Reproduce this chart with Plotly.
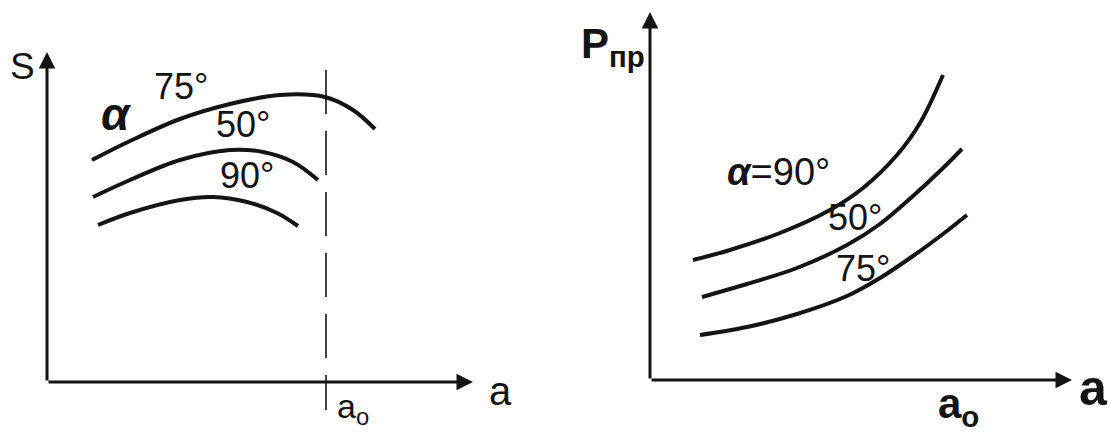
import plotly.graph_objects as go

# ---- Left panel: S as a function of a for three angles ----
a_75 = [4.5, 8.3, 13.3, 18.3, 23.3, 27.8, 30.6, 32.8]
s_75 = [22.2, 24.1, 26.3, 27.8, 28.7, 28.5, 27.2, 25.3]

a_50 = [4.6, 8.3, 13.3, 18.3, 21.6, 24.6, 27.1]
s_50 = [18.5, 20.2, 22.2, 23.2, 23.0, 22.0, 20.2]

a_90 = [5.1, 8.3, 13.3, 16.6, 20.0, 23.0, 25.1]
s_90 = [15.7, 16.9, 18.2, 18.5, 18.0, 16.9, 15.6]

a0_left = 27.9  # critical value a_o marked by the dashed line

# ---- Right panel: P_пр as a function of a for three angles ----
ar_90 = [4.3, 8.0, 13.0, 18.0, 21.3, 24.7, 27.0, 29.3]
p_90 = [12.0, 13.0, 14.7, 17.0, 19.2, 22.5, 25.7, 30.5]

ar_50 = [5.2, 9.7, 14.7, 19.7, 23.0, 26.3, 29.0, 31.2]
p_50 = [8.3, 9.6, 11.2, 13.5, 15.6, 18.4, 20.9, 23.1]

ar_75 = [5.0, 9.7, 14.7, 19.7, 23.0, 26.3, 29.3, 31.7]
p_75 = [4.5, 5.3, 6.6, 8.4, 10.2, 12.4, 14.6, 16.5]

INK = "#141414"
FONT = "Liberation Sans"

fig = go.Figure()


def curve(x, y, xa, ya):
    fig.add_trace(go.Scatter(
        x=x, y=y, xaxis=xa, yaxis=ya, mode="lines",
        line=dict(color=INK, width=4, shape="spline", smoothing=1.0),
        hoverinfo="skip", showlegend=False))


curve(a_75, s_75, "x", "y")
curve(a_50, s_50, "x", "y")
curve(a_90, s_90, "x", "y")
curve(ar_90, p_90, "x2", "y2")
curve(ar_50, p_50, "x2", "y2")
curve(ar_75, p_75, "x2", "y2")

# dashed marker at a_o on the left panel
fig.add_trace(go.Scatter(
    x=[a0_left, a0_left], y=[31.2, -2.8], xaxis="x", yaxis="y", mode="lines",
    line=dict(color=INK, width=1.6, dash="44px,17px"),
    hoverinfo="skip", showlegend=False))

annotations = []


def axis_arrow(xref, yref, x_tip, y_tip):
    annotations.append(dict(
        x=x_tip, y=y_tip, ax=0, ay=0, xref=xref, yref=yref,
        axref=xref, ayref=yref, text="", showarrow=True,
        arrowhead=2, arrowsize=1.1, arrowwidth=3, arrowcolor=INK))


axis_arrow("x", "y", 42.6, 0)
axis_arrow("x", "y", 0, 33.0)
axis_arrow("x2", "y2", 42.2, 0)
axis_arrow("x2", "y2", 0, 36.8)


def label(xref, yref, x, y, text, size, xanchor="center", bold=False):
    if bold:
        text = "<b>" + text + "</b>"
    annotations.append(dict(
        x=x, y=y, xref=xref, yref=yref, text=text, showarrow=False,
        xanchor=xanchor, yanchor="middle",
        font=dict(family=FONT, size=size, color=INK)))


# left panel text
label("x", "y", -2.5, 31.6, "S", 37)
label("x", "y", 45.3, -0.9, "a", 40)
label("x", "y", 28.8, -2.6, "a<sub>o</sub>", 34, xanchor="left")
label("x", "y", 6.9, 26.8, "<i>α</i>", 46, bold=True)
label("x", "y", 10.5, 29.6, "75°", 36, xanchor="left")
label("x", "y", 16.7, 25.8, "50°", 36, xanchor="left")
label("x", "y", 17.1, 20.7, "90°", 36, xanchor="left")

# right panel text
label("x2", "y2", -7.1, 33.4, "P<sub>пр</sub>", 42, xanchor="left", bold=True)
label("x2", "y2", 44.3, -0.8, "a", 50, bold=True)
label("x2", "y2", 28.6, -2.6, "a<sub>o</sub>", 42, xanchor="left", bold=True)
label("x2", "y2", 7.5, 20.8, "<b><i>α</i></b>=90°", 38, xanchor="left")
label("x2", "y2", 17.6, 16.3, "50°", 36, xanchor="left")
label("x2", "y2", 18.4, 11.2, "75°", 36, xanchor="left")

hidden = dict(visible=False, showgrid=False, zeroline=False, fixedrange=True)

fig.update_layout(
    width=1110, height=432,
    margin=dict(l=0, r=0, t=0, b=0),
    paper_bgcolor="white", plot_bgcolor="white",
    showlegend=False,
    xaxis=dict(domain=[0, 0.5], range=[-4.7, 50.8], **hidden),
    yaxis=dict(domain=[0, 1], range=[-5.0, 38.2], anchor="x", **hidden),
    xaxis2=dict(domain=[0.5, 1], range=[-9.5, 46.0], anchor="y2", **hidden),
    yaxis2=dict(domain=[0, 1], range=[-5.2, 38.0], anchor="x2", **hidden),
    annotations=annotations,
)

fig.write_html("out.html")
